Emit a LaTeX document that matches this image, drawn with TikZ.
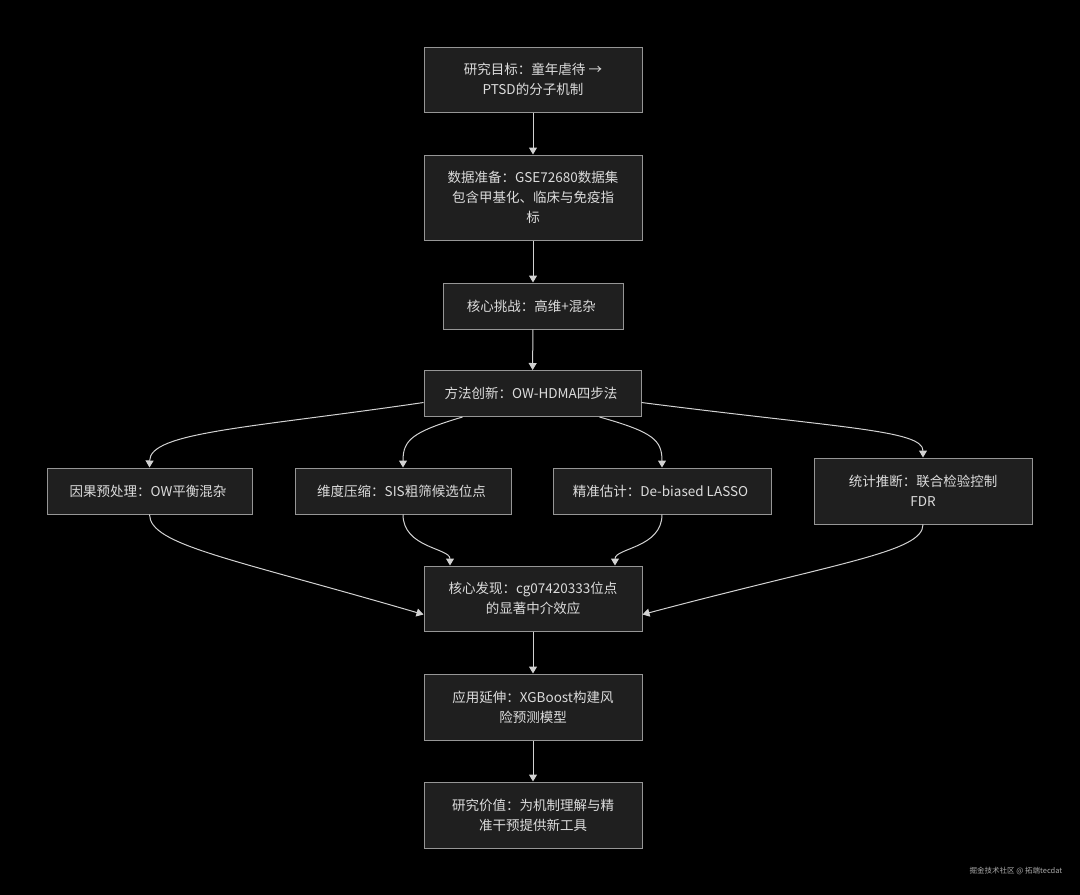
\documentclass[tikz,border=0pt]{standalone}
\usepackage{fontspec}
\setmainfont{Noto Sans CJK SC}
\usetikzlibrary{arrows.meta,positioning,calc}
\newcommand{\FlowFont}{\fontsize{13.5}{20}\selectfont}
\newcommand{\MarkFont}{\fontsize{7.5}{9}\selectfont}
\definecolor{BgFill}{RGB}{0,0,0}
\definecolor{BoxFill}{RGB}{31,31,31}
\definecolor{BoxDraw}{RGB}{150,150,150}
\definecolor{BoxText}{RGB}{220,220,220}
\definecolor{EdgeDraw}{RGB}{210,210,210}
\definecolor{MarkText}{RGB}{170,170,170}
\tikzset{
  every node/.style={align=center},
  line cap=round,
  %% base block
  blk/.style={
    draw=BoxDraw,
    fill=BoxFill,
    line width=1pt,
    text=BoxText,
    inner sep=6pt,
    font=\FlowFont,
  },
  wideBlk/.style={
    blk,
    minimum width=218pt,
  },
  %% arrows
  arr/.style={
    -{Triangle[length=7pt,width=8pt]},
    line width=1pt,
    EdgeDraw,
  },
}

\begin{document}
\begin{tikzpicture}[x=1pt,y=-1pt]

%% ── Canvas ─────────────────────────────────────────────────────────────────
\fill[BgFill] (0,0) rectangle (1080,895);
\useasboundingbox (0,0) rectangle (1080,895);

%% ── Main chain (top) ───────────────────────────────────────────────────────
\node[wideBlk, minimum height=65pt] (GOAL) at (533,79.5) {%
  研究目标：童年虐待 →\\
  PTSD的分子机制
};

\node[wideBlk, minimum height=85pt] (DATA) at (533,197.5) {%
  数据准备：GSE72680数据集\\
  包含甲基化、临床与免疫指\\
  标
};

\node[blk, minimum height=46pt, minimum width=180pt] (CHAL) at (533,306) {%
  核心挑战：高维+混杂
};

\node[blk, minimum height=46pt, minimum width=217pt] (METH) at (532.5,393.5) {%
  方法创新：OW-HDMA四步法
};

%% ── Four steps ─────────────────────────────────────────────────────────────
\node[blk, minimum height=46pt, minimum width=205pt] (PRE) at (149.5,491) {%
  因果预处理：OW平衡混杂
};

\node[blk, minimum height=46pt, minimum width=216pt] (DIM) at (403,491) {%
  维度压缩：SIS粗筛候选位点
};

\node[wideBlk, minimum height=46pt] (EST) at (662,491) {%
  精准估计：De-biased LASSO
};

\node[wideBlk, minimum height=66pt] (INF) at (923,491) {%
  统计推断：联合检验控制\\
  FDR
};

%% ── Main chain (bottom) ────────────────────────────────────────────────────
\node[wideBlk, minimum height=65pt] (FIND) at (533,598.5) {%
  核心发现：cg07420333位点\\
  的显著中介效应
};

\node[wideBlk, minimum height=66pt] (APP) at (533,707) {%
  应用延伸：XGBoost构建风\\
  险预测模型
};

\node[wideBlk, minimum height=66pt] (VAL) at (533,815) {%
  研究价值：为机制理解与精\\
  准干预提供新工具
};

%% ── Straight arrows ────────────────────────────────────────────────────────
\draw[arr] (GOAL) -- (DATA);
\draw[arr] (DATA) -- (CHAL);
\draw[arr] (CHAL) -- (METH);
\draw[arr] (FIND) -- (APP);
\draw[arr] (APP)  -- (VAL);

%% ── Fan out ────────────────────────────────────────────────────────────────
\draw[arr] ([yshift=-9pt]METH.west) .. controls (250,428) and (150,432) .. (PRE.north);
\draw[arr] ([xshift=-70pt]METH.south) .. controls (412,432) and (403,440) .. (DIM.north);
\draw[arr] ([xshift=67pt]METH.south) .. controls (653,432) and (662,440) .. (EST.north);
\draw[arr] ([yshift=-9pt]METH.east) .. controls (840,428) and (923,430) .. (INF.north);

%% ── Fan in ─────────────────────────────────────────────────────────────────
\draw[arr] (PRE.south) .. controls (150,545) and (230,558) .. ([yshift=-16pt]FIND.west);
\draw[arr] (DIM.south) .. controls (403,548) and (450,548) .. ([xshift=-83pt]FIND.north);
\draw[arr] (EST.south) .. controls (662,548) and (615,548) .. ([xshift=82pt]FIND.north);
\draw[arr] (INF.south) .. controls (923,552) and (840,562) .. ([yshift=-16pt]FIND.east);

%% ── Watermark ──────────────────────────────────────────────────────────────
\node[font=\MarkFont, text=MarkText, inner sep=0pt] (MARK) at (1016,871) {掘金技术社区 @ 拓端tecdat};

\end{tikzpicture}
\end{document}
